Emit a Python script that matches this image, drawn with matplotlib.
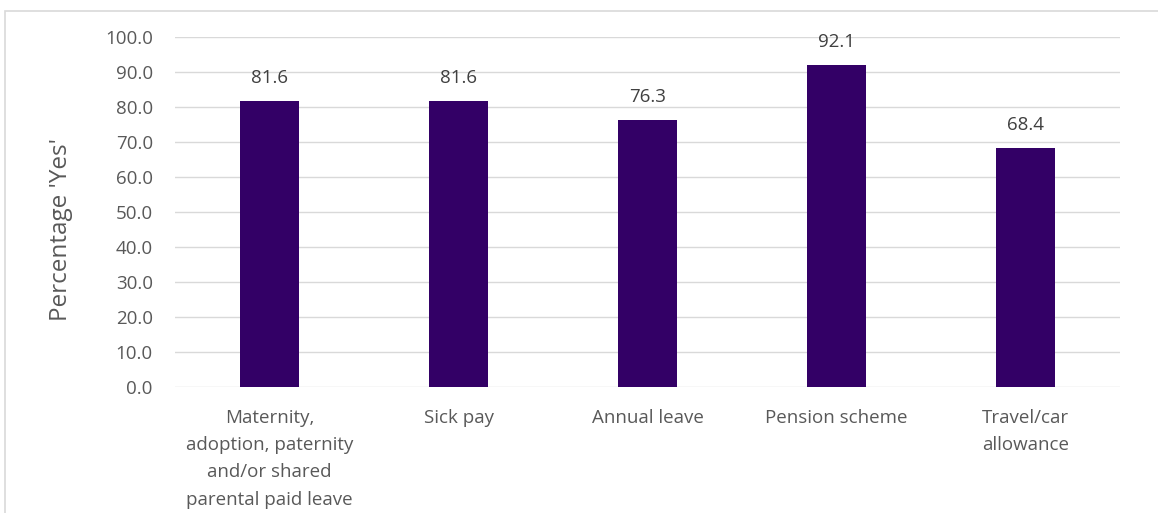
import matplotlib.pyplot as plt
from matplotlib.patches import Rectangle

categories = ["Maternity,\nadoption, paternity\nand/or shared\nparental paid leave",
              "Sick pay", "Annual leave", "Pension scheme", "Travel/car\nallowance"]
values = [81.6, 81.6, 76.3, 92.1, 68.4]
yticks = [0, 10, 20, 30, 40, 50, 60, 70, 80, 90, 100]

plt.rcParams['font.family'] = ['Open Sans', 'DejaVu Sans']
grey = '#595959'

fig = plt.figure(figsize=(11.58, 5.13), dpi=100)
fig.patches.append(Rectangle((5 / 1158, -0.1), 1.2, 1 - 11 / 513 + 0.1,
                             transform=fig.transFigure, fill=False,
                             edgecolor='#d9d9d9', linewidth=1.2))
ax = fig.add_axes([175 / 1158, 1 - 387 / 513, 945 / 1158, 350 / 513])

x = range(len(categories))
bars = ax.bar(x, values, width=0.315, color='#330066', zorder=3)
for b, v in zip(bars, values):
    ax.text(b.get_x() + b.get_width() / 2, v + 4, f"{v:.1f}",
            ha='center', va='bottom', fontsize=13.5, color='#404040')

ax.set_xlim(-0.5, len(categories) - 0.5)
ax.set_ylim(0, 100)
ax.set_yticks(yticks)
ax.set_yticklabels([f"{t:.1f}" for t in yticks], fontsize=13.5, color=grey)
ax.set_xticks(list(x))
ax.set_xticklabels(categories, fontsize=13.5, color=grey, linespacing=1.65, va='top')
ax.tick_params(axis='both', length=0)
ax.tick_params(axis='y', pad=16)
ax.tick_params(axis='x', pad=16)
ax.grid(axis='y', color='#d9d9d9', linewidth=1, zorder=0)
for s in ax.spines.values():
    s.set_visible(False)
ax.set_ylabel("Percentage 'Yes'", fontsize=17.5, color=grey)
ax.yaxis.set_label_coords(-0.108, 0.45)

fig.savefig('out.png', dpi=100)
